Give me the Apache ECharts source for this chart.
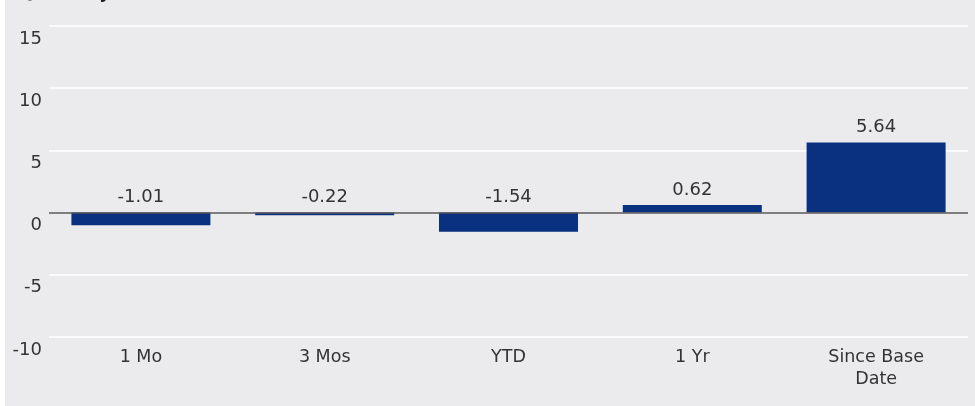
<!DOCTYPE html>
<html>
<head>
<meta charset="utf-8">
<script src="https://cdn.jsdelivr.net/npm/echarts@6/dist/echarts.min.js"></script>
<style>
html,body{margin:0;padding:0;background:#ffffff;}
#bg{position:absolute;left:5px;top:0;width:970px;height:406px;background:#ebebed;}
#chart{position:absolute;left:0;top:0;width:975px;height:406px;}
</style>
</head>
<body>
<div id="bg"></div>
<div id="chart"></div>
<script>
const titleText = 'Quarterly Performance (%)';
const categories = ['1 Mo', '3 Mos', 'YTD', '1 Yr', 'Since Base\nDate'];
const values = [-1.01, -0.22, -1.54, 0.62, 5.64];
const yMin = -10, yMax = 15, yStep = 5;

const chart = echarts.init(document.getElementById('chart'), null, {renderer: 'canvas'});
const FONT = 'DejaVu Sans';

chart.setOption({
  backgroundColor: 'transparent',
  animation: false,
  title: {
    text: titleText,
    left: 14,
    top: -20,
    textStyle: {fontFamily: FONT, fontSize: 17, fontWeight: 'bold', color: '#222'}
  },
  grid: {left: 49, right: 7, top: 26, bottom: 69, containLabel: false},
  xAxis: {
    type: 'category',
    data: categories,
    axisLine: {show: false},
    axisTick: {show: false},
    axisLabel: {
      fontFamily: FONT, fontSize: 17.5, color: '#333', margin: 9,
      lineHeight: 22, verticalAlign: 'top', interval: 0
    }
  },
  yAxis: {
    type: 'value',
    min: yMin, max: yMax, interval: yStep,
    axisLine: {show: false},
    axisTick: {show: false},
    splitLine: {lineStyle: {color: '#ffffff', width: 1.5}},
    axisLabel: {
      fontFamily: FONT, fontSize: 18, color: '#333', margin: 7,
      verticalAlign: 'top', padding: [4, 0, 0, 0]
    }
  },
  series: [{
    type: 'bar',
    data: values,
    barWidth: 139,
    itemStyle: {color: '#0a317f'},
    label: {
      show: true,
      position: 'top',
      distance: 6,
      fontFamily: FONT, fontSize: 18, color: '#333',
      formatter: p => p.value.toFixed(2)
    },
    markLine: {
      silent: true,
      symbol: 'none',
      label: {show: false},
      lineStyle: {color: '#555', width: 1.5, type: 'solid'},
      data: [{yAxis: 0}]
    }
  }]
});
</script>
</body>
</html>
